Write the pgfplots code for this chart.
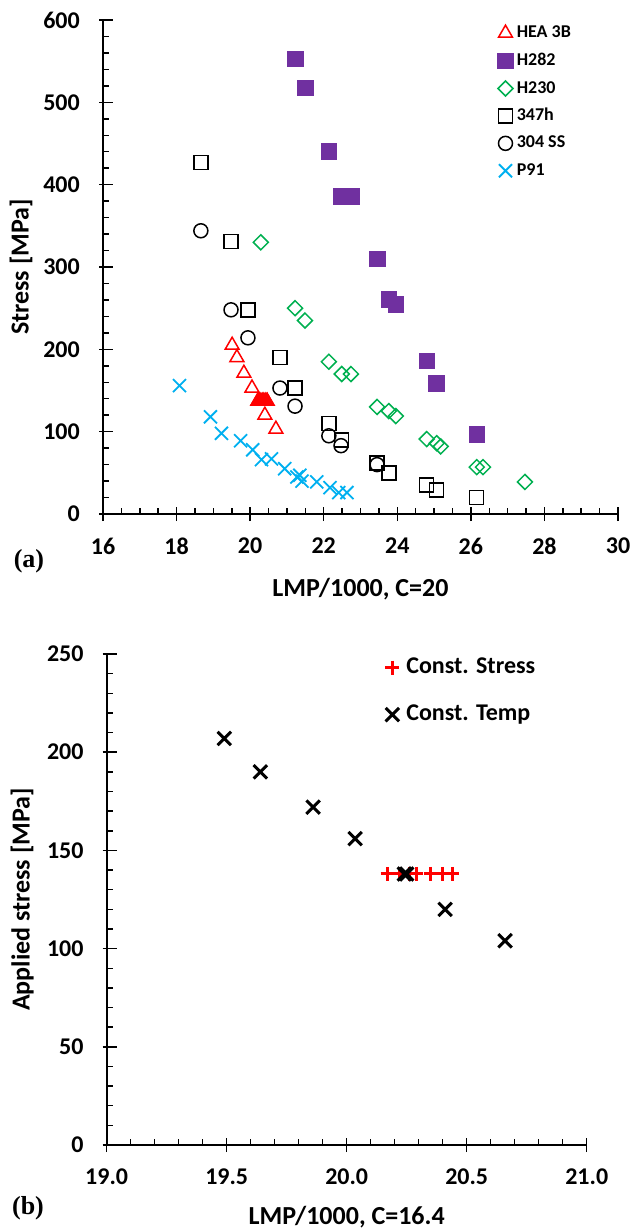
\documentclass[border=0pt]{standalone}
\usepackage{pgfplots}
\pgfplotsset{compat=1.18}
\usepackage{fontspec}
\setmainfont{Carlito}
\newfontfamily\timesfont{Liberation Serif}
\definecolor{hpurple}{HTML}{7030A0}
\definecolor{hgreen}{HTML}{00B050}
\definecolor{hcyan}{HTML}{00B0F0}
\definecolor{hred}{HTML}{FF0000}
\newcommand\tickfont{\fontsize{24}{28}\selectfont\bfseries}
\newcommand\labfont{\fontsize{26}{30}\selectfont\bfseries}
\pgfplotsset{
  myaxis/.style={
    scale only axis,
    axis lines=left,
    axis line style={-, line width=1.8pt, black},
    tick style={line width=1.5pt, black},
    tick align=inside,
    major tick length=14pt,
    minor tick length=6pt,
    major x tick style={yshift=-7pt},
    major y tick style={xshift=-4pt},
    /pgf/number format/assume math mode=true,
    xticklabel style={font=\tickfont, anchor=north, inner sep=0pt, yshift=-24pt},
    yticklabel style={font=\tickfont, anchor=east, inner sep=0pt, xshift=-23pt},
    xlabel style={font=\labfont},
    ylabel style={font=\labfont, rotate=0},
    legend cell align=left,
    legend image code/.code={\path[draw=none, fill=none] (-7.5pt,-6pt) rectangle (7.5pt,6pt); \draw[##1] plot coordinates {(0pt,0pt)};},
  }
}
\begin{document}
\begin{tikzpicture}
\path[use as bounding box] (0pt,0pt) rectangle (635pt,-1230pt);
% ---------------- panel (a)
\begin{axis}[myaxis,
  at={(103pt,-514pt)}, anchor=south west,
  width=515pt, height=494pt,
  xmin=16, xmax=30, ymin=0, ymax=600,
  xtick={16,18,20,22,24,26,28,30}, ytick={0,100,200,300,400,500,600},
  minor x tick num=3, minor y tick num=4,
  xlabel={LMP/1000, C=20}, ylabel={Stress [MPa]},
  xlabel style={at={(axis description cs:0.5,-0.168)}, anchor=base},
  ylabel style={at={(axis description cs:-0.159,0.5)}, anchor=center},
  legend style={at={(axis description cs:0.766,0.99)}, anchor=north west,
    draw=none, fill=none, inner sep=0pt, row sep=12.4pt, column sep=3.5pt,
    font=\fontsize{18}{20}\selectfont\bfseries,
    nodes={inner sep=0pt, text height=12pt, text depth=3pt}},
]
\addplot[only marks, mark=triangle, mark size=8pt, draw=hred, line width=1.5pt] coordinates {
 (19.51,205) (19.64,190) (19.83,171) (20.05,153) (20.21,137) (20.46,137) (20.40,120) (20.70,103)};
\addlegendentry{HEA 3B}
\addplot[only marks, mark=square*, mark size=7.8pt, draw=hpurple, fill=hpurple, line width=0.4pt] coordinates {
 (21.22,553) (21.49,518) (22.14,441) (22.47,386) (22.74,386) (23.45,310) (23.77,261) (23.96,255)
 (24.80,186) (25.05,159) (26.16,97)};
\addlegendentry{H282}
\addplot[only marks, mark=square, mark size=5.3pt, mark options={rotate=45}, draw=hgreen, line width=1.5pt] coordinates {
 (20.29,330) (21.22,250) (21.49,235) (22.14,185) (22.49,170) (22.74,170) (23.45,130) (23.77,125) (23.96,119)
 (24.80,91) (25.07,86) (25.18,82) (26.16,57) (26.33,57) (27.47,39)};
\addlegendentry{H230}
\addplot[only marks, mark=square, mark size=7pt, draw=black, line width=1.5pt] coordinates {
 (18.66,427) (19.48,331) (19.94,248) (20.81,190) (21.22,153) (22.14,110) (22.49,90) (23.45,62) (23.77,50)
 (24.80,35) (25.07,29) (26.16,20)};
\addlegendentry{347h}
\addplot[only marks, mark=o, mark size=7pt, draw=black, line width=1.5pt] coordinates {
 (18.66,344) (19.48,248) (19.94,214) (20.81,153) (21.22,131) (22.14,95) (22.47,83) (23.45,60)};
\addlegendentry{304 SS}
\addplot[only marks, mark=x, mark size=9.2pt, draw=hcyan, line width=1.8pt] coordinates {
 (18.08,156) (18.92,118) (19.22,98) (19.74,89) (20.07,78) (20.31,66) (20.58,67) (20.94,55) (21.27,45)
 (21.35,47) (21.41,40) (21.81,39) (22.17,32) (22.41,26) (22.63,26)};
\addlegendentry{P91}
\addplot[forget plot, only marks, mark=triangle*, mark size=8pt, draw=hred, fill=hred, line width=1.5pt] coordinates {
 (20.21,137) (20.25,137) (20.29,137) (20.33,137) (20.37,137) (20.41,137) (20.46,137)};
\end{axis}
\node[font=\timesfont\fontsize{26}{30}\selectfont\bfseries] at (29pt,-561pt) {(a)};
% ---------------- panel (b)
\begin{axis}[myaxis,
  at={(106.7pt,-1145pt)}, anchor=south west,
  width=480pt, height=491pt,
  xmin=19, xmax=21, ymin=0, ymax=250,
  xtick={19,19.5,20,20.5,21}, ytick={0,50,100,150,200,250},
  minor x tick num=4, minor y tick num=4,
  xticklabel style={/pgf/number format/.cd, fixed, fixed zerofill, precision=1},
  xlabel={LMP/1000, C=16.4}, ylabel={Applied stress [MPa]},
  xlabel style={at={(axis description cs:0.5,-0.161)}, anchor=base},
  ylabel style={at={(axis description cs:-0.176,0.5)}, anchor=center},
  legend style={at={(axis description cs:0.579,0.993)}, anchor=north west,
    draw=none, fill=none, inner sep=0pt, row sep=27pt, column sep=6.5pt,
    font=\fontsize{24}{28}\selectfont\bfseries,
    nodes={inner sep=0pt, text height=16pt, text depth=4pt}},
]
\addplot[only marks, mark=+, mark size=7pt, draw=hred, line width=3pt] coordinates {
 (20.17,138) (20.22,138) (20.26,138) (20.29,138) (20.35,138) (20.40,138) (20.44,138)};
\addlegendentry{Const. Stress}
\addplot[only marks, mark=x, mark size=9.5pt, draw=black, line width=3pt] coordinates {
 (19.49,207) (19.64,190) (19.86,172) (20.035,156) (20.24,138) (20.25,138) (20.41,120) (20.66,104)};
\addlegendentry{Const. Temp}
\end{axis}
\node[font=\timesfont\fontsize{26}{30}\selectfont\bfseries] at (28pt,-1208pt) {(b)};
\end{tikzpicture}
\end{document}
